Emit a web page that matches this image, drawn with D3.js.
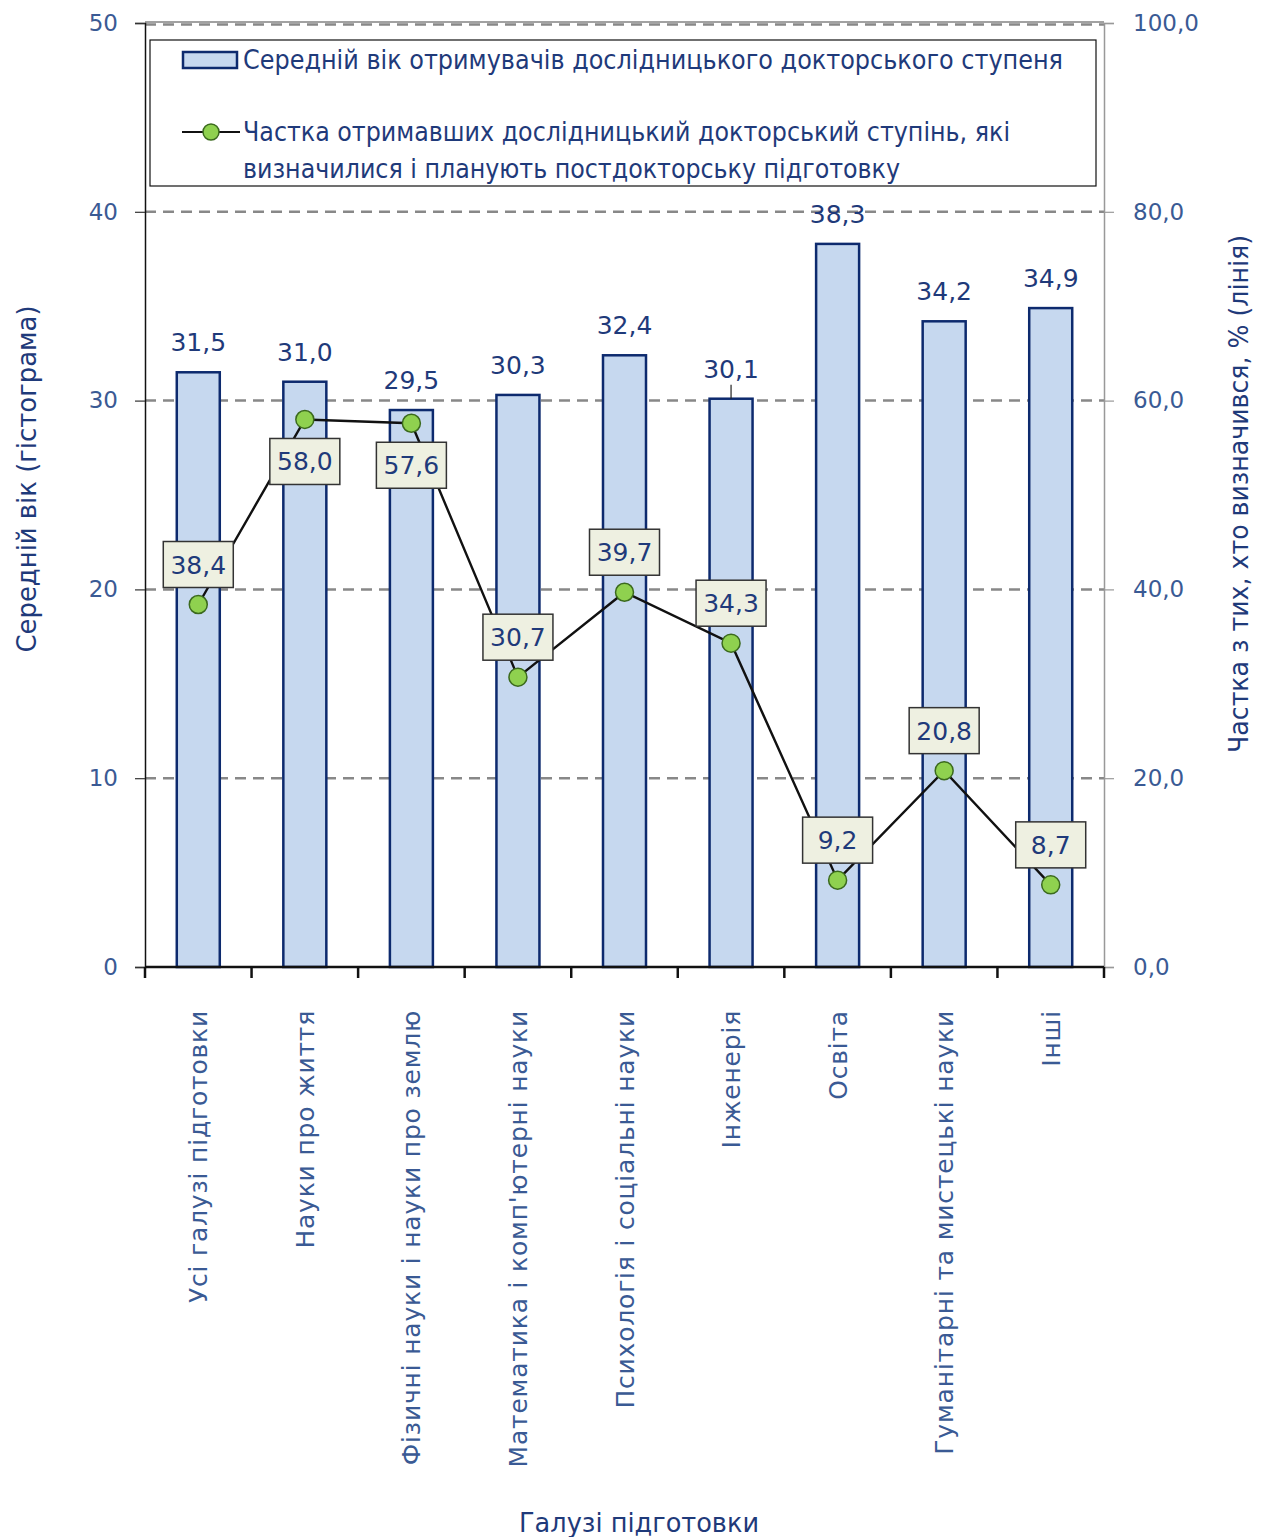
<!DOCTYPE html>
<html><head><meta charset="utf-8">
<script src="https://cdn.jsdelivr.net/npm/d3@7"></script>
<style>body{margin:0;background:#fff;} svg{display:block;}</style>
</head><body>
<svg id="c" width="1262" height="1537"></svg>
<script>
const categories = ["Усі галузі підготовки","Науки про життя","Фізичні науки і науки про землю","Математика і комп'ютерні науки","Психологія і соціальні науки","Інженерія","Освіта","Гуманітарні та мистецькі науки","Інші"];
const ageValues = [31.5,31.0,29.5,30.3,32.4,30.1,38.3,34.2,34.9];
const shareValues = [38.4,58.0,57.6,30.7,39.7,34.3,9.2,20.8,8.7];
const shareLabelSide = ["above","below","below","above","above","above","above","above","above"];
const leftTicks = [0,10,20,30,40,50];
const rightTicks = [0,20,40,60,80,100];
const legendBar = "Середній вік отримувачів дослідницького докторського ступеня";
const legendLine = ["Частка отримавших дослідницький докторський ступінь, які","визначилися і планують постдокторську підготовку"];
const leftTitle = "Середній вік (гістограма)";
const rightTitle = "Частка з тих, хто визначився, % (лінія)";
const xTitle = "Галузі підготовки";

const svg = d3.select("#c");
const L=145, R=1104, T=23, B=967;
const fmt = v => v.toFixed(1).replace(".", ",");
const navy="#0d2a6e", txt="#1f3a7a", tick="#3a5a94";
const narrow = "'Liberation Sans Narrow','DejaVu Sans Condensed','Roboto',sans-serif";

const x = d3.scaleBand().domain(categories).range([L,R]).paddingInner(0).paddingOuter(0);
const yL = d3.scaleLinear().domain([0,50]).range([B,T]);
const yR = d3.scaleLinear().domain([0,100]).range([B,T]);

// gridlines
svg.append("g").selectAll("line").data(leftTicks.filter(d=>d>0)).join("line")
  .attr("x1",L).attr("x2",R).attr("y1",d=>yL(d)+(d===50?1.5:0)).attr("y2",d=>yL(d)+(d===50?1.5:0))
  .attr("stroke","#888").attr("stroke-width",2.5).attr("stroke-dasharray","11,7");
svg.append("line").attr("x1",L).attr("x2",R).attr("y1",T-1).attr("y2",T-1).attr("stroke","#444").attr("stroke-width",1);

// bars
const bw = 43;
svg.append("g").selectAll("rect").data(ageValues).join("rect")
  .attr("x",(d,i)=>x(categories[i])+x.bandwidth()/2-bw/2)
  .attr("y",d=>yL(d)).attr("width",bw).attr("height",d=>B-yL(d))
  .attr("fill","#c6d8ef").attr("stroke",navy).attr("stroke-width",2.5);

// bar labels
svg.append("g").selectAll("text").data(ageValues).join("text")
  .attr("x",(d,i)=>x(categories[i])+x.bandwidth()/2)
  .attr("y",d=>yL(d)-21).attr("text-anchor","middle")
  .attr("font-family","DejaVu Sans, sans-serif").attr("font-size",25).attr("fill",txt)
  .text(fmt);
// leader for 30,1
svg.append("line").attr("x1",x(categories[5])+x.bandwidth()/2).attr("x2",x(categories[5])+x.bandwidth()/2)
  .attr("y1",yL(ageValues[5])-14).attr("y2",yL(ageValues[5])).attr("stroke","#222").attr("stroke-width",1.2);

// axes
const gl = svg.append("g").attr("transform",`translate(${L},0)`)
  .call(d3.axisLeft(yL).tickValues(leftTicks).tickSize(10).tickPadding(17).tickFormat(d3.format("d")));
gl.select(".domain").attr("stroke","#111").attr("stroke-width",1.5);
gl.selectAll(".tick line").attr("stroke","#333").attr("stroke-width",1.2);
gl.selectAll("text").attr("font-family","DejaVu Sans, sans-serif").attr("font-size",23).attr("fill",tick);

const gr = svg.append("g").attr("transform",`translate(${R},0)`)
  .call(d3.axisRight(yR).tickValues(rightTicks).tickSize(10).tickPadding(19).tickFormat(fmt));
gr.select(".domain").attr("stroke","#999").attr("stroke-width",1.5);
gr.selectAll(".tick line").attr("stroke","#999").attr("stroke-width",1.2);
gr.selectAll("text").attr("font-family","DejaVu Sans, sans-serif").attr("font-size",23).attr("fill",tick);

// bottom axis with boundary ticks
const gb = svg.append("g").attr("transform",`translate(0,${B})`);
gb.append("line").attr("x1",L).attr("x2",R).attr("stroke","#111").attr("stroke-width",2.5);
const bounds = categories.map(c=>x(c)).concat([R]);
gb.selectAll("line.t").data(bounds).join("line").attr("class","t")
  .attr("x1",d=>d).attr("x2",d=>d).attr("y1",0).attr("y2",11).attr("stroke","#111").attr("stroke-width",2.5);
gb.selectAll("text").data(categories).join("text")
  .attr("transform",d=>`translate(${x(d)+x.bandwidth()/2+9},${43}) rotate(-90)`)
  .attr("text-anchor","end").attr("font-family","DejaVu Sans, sans-serif").attr("font-size",25)
  .attr("letter-spacing",0.8).attr("fill",tick).text(d=>d);

// line
const pts = shareValues.map((v,i)=>[x(categories[i])+x.bandwidth()/2, yR(v)]);
svg.append("path").attr("d",d3.line()(pts)).attr("fill","none").attr("stroke","#111").attr("stroke-width",2.4);
svg.append("g").selectAll("circle").data(pts).join("circle")
  .attr("cx",d=>d[0]).attr("cy",d=>d[1]).attr("r",9)
  .attr("fill","#8fd14f").attr("stroke","#3b6a1e").attr("stroke-width",1.5);

// line labels
const lg = svg.append("g");
shareValues.forEach((v,i)=>{
  const [px,py] = pts[i];
  const cy = shareLabelSide[i]==="above" ? py-40 : py+42;
  const g = lg.append("g");
  g.append("rect").attr("x",px-35).attr("y",cy-23).attr("width",70).attr("height",46)
    .attr("fill","#eef0e1").attr("stroke","#333").attr("stroke-width",1.5);
  g.append("text").attr("x",px).attr("y",cy+9).attr("text-anchor","middle")
    .attr("font-family","DejaVu Sans, sans-serif").attr("font-size",25).attr("fill",txt).text(fmt(v));
});

// legend
const leg = svg.append("g");
leg.append("rect").attr("x",150).attr("y",40).attr("width",946).attr("height",146).attr("fill","#fff").attr("stroke","#111").attr("stroke-width",1.2);
leg.append("rect").attr("x",183).attr("y",52).attr("width",54).attr("height",16).attr("fill","#c6d8ef").attr("stroke",navy).attr("stroke-width",2.5);
leg.append("text").attr("x",243).attr("y",69).attr("font-family",narrow).attr("font-size",26).attr("fill",txt)
  .attr("textLength",820).attr("lengthAdjust","spacingAndGlyphs").text(legendBar);
leg.append("line").attr("x1",182).attr("x2",240).attr("y1",132).attr("y2",132).attr("stroke","#111").attr("stroke-width",2.2);
leg.append("circle").attr("cx",211).attr("cy",132).attr("r",8).attr("fill","#8fd14f").attr("stroke","#3b6a1e").attr("stroke-width",1.5);
leg.append("text").attr("x",243).attr("y",141).attr("font-family",narrow).attr("font-size",26).attr("fill",txt)
  .attr("textLength",767).attr("lengthAdjust","spacingAndGlyphs").text(legendLine[0]);
leg.append("text").attr("x",243).attr("y",178).attr("font-family",narrow).attr("font-size",26).attr("fill",txt)
  .attr("textLength",657).attr("lengthAdjust","spacingAndGlyphs").text(legendLine[1]);

// axis titles
svg.append("text").attr("transform","translate(36,479) rotate(-90)").attr("text-anchor","middle")
  .attr("font-family",narrow).attr("font-size",27).attr("fill",txt)
  .attr("textLength",347).attr("lengthAdjust","spacingAndGlyphs").text(leftTitle);
svg.append("text").attr("transform","translate(1248,494) rotate(-90)").attr("text-anchor","middle")
  .attr("font-family",narrow).attr("font-size",27).attr("fill",txt)
  .attr("textLength",518).attr("lengthAdjust","spacingAndGlyphs").text(rightTitle);
svg.append("text").attr("x",639).attr("y",1532).attr("text-anchor","middle")
  .attr("font-family",narrow).attr("font-size",27).attr("fill",txt)
  .attr("textLength",240).attr("lengthAdjust","spacingAndGlyphs").text(xTitle);
</script>
</body></html>
